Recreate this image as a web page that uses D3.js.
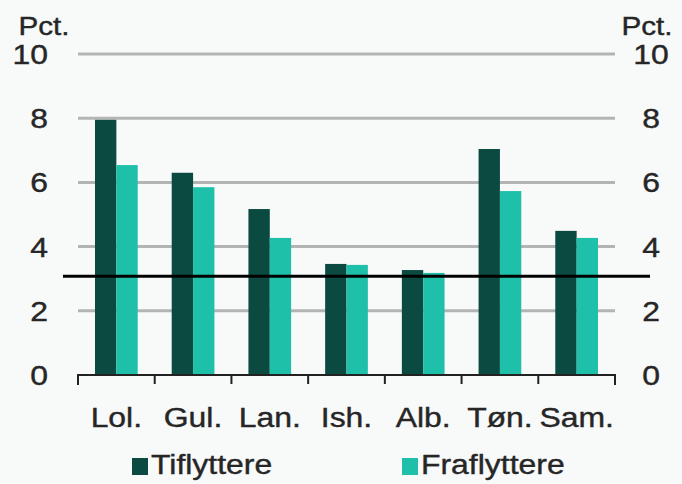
<!DOCTYPE html>
<html>
<head>
<meta charset="utf-8">
<script src="https://cdn.jsdelivr.net/npm/d3@7"></script>
<style>
  body { margin: 0; background: #f8f9f9; }
  svg { display: block; font-family: "Liberation Sans", Arial, sans-serif; }
  text { fill: #262626; stroke: #262626; stroke-width: 0.4px; }
</style>
</head>
<body>
<svg id="chart" width="682" height="484"></svg>
<script>
var categories = ["Lol.", "Gul.", "Lan.", "Ish.", "Alb.", "Tøn.", "Sam."];
var tiflyttere = [7.95, 6.3, 5.17, 3.46, 3.27, 7.04, 4.49];
var fraflyttere = [6.54, 5.85, 4.27, 3.43, 3.18, 5.73, 4.27];
var seriesNames = ["Tiflyttere", "Fraflyttere"];
var yTicks = [0, 2, 4, 6, 8, 10];
var average = 3.08;

var colors = ["#0b4a40", "#1ec0aa"];
var fontSize = 28, stretchX = 1.14;

var svg = d3.select("#chart");
var margin = {top: 54, right: 67, bottom: 109, left: 78},
    width = +svg.attr("width") - margin.left - margin.right,
    height = +svg.attr("height") - margin.top - margin.bottom;

// text in the original is a bit wider than the font, so scale it horizontally
function label(parent, x, y, anchor, str) {
  return parent.append("text")
      .attr("transform", "translate(" + x + "," + y + ") scale(" + stretchX + ",1)")
      .attr("text-anchor", anchor)
      .attr("font-size", fontSize)
      .text(str);
}

var g = svg.append("g")
    .attr("transform", "translate(" + margin.left + "," + margin.top + ")");

var data = categories.map(function(c, i) {
  return {cat: c, values: [tiflyttere[i], fraflyttere[i]]};
});

var x = d3.scaleBand()
    .domain(categories)
    .range([0, width]);

var x1 = d3.scaleBand()
    .domain([0, 1])
    .range([17, x.bandwidth() - 17]);

var y = d3.scaleLinear()
    .domain([0, 10])
    .range([height, 0]);

// gridlines
g.append("g").selectAll("line")
    .data(yTicks.filter(function(d) { return d > 0; }))
  .enter().append("line")
    .attr("x1", 0)
    .attr("x2", width)
    .attr("y1", function(d) { return y(d); })
    .attr("y2", function(d) { return y(d); })
    .attr("stroke", "#b4b4b4")
    .attr("stroke-width", 3);

// bars
var group = g.append("g").selectAll("g")
    .data(data)
  .enter().append("g")
    .attr("transform", function(d) { return "translate(" + x(d.cat) + ",0)"; });

group.selectAll("rect")
    .data(function(d) { return d.values; })
  .enter().append("rect")
    .attr("x", function(d, i) { return x1(i); })
    .attr("y", function(d) { return y(d); })
    .attr("width", x1.bandwidth())
    .attr("height", function(d) { return height - y(d); })
    .attr("fill", function(d, i) { return colors[i]; });

// average line
g.append("line")
    .attr("x1", -15)
    .attr("x2", width + 35)
    .attr("y1", y(average))
    .attr("y2", y(average))
    .attr("stroke", "#000")
    .attr("stroke-width", 3);

// x axis
var xAxis = g.append("g")
    .attr("transform", "translate(0," + height + ")");
xAxis.append("path")
    .attr("d", "M0,10V0H" + width + "V10")
    .attr("fill", "none")
    .attr("stroke", "#222")
    .attr("stroke-width", 2);
xAxis.selectAll("line.sep")
    .data(categories.slice(1))
  .enter().append("line")
    .attr("class", "sep")
    .attr("x1", function(d) { return x(d); })
    .attr("x2", function(d) { return x(d); })
    .attr("y1", 0)
    .attr("y2", 9)
    .attr("stroke", "#222")
    .attr("stroke-width", 2);
categories.forEach(function(c) {
  label(xAxis, x(c) + x.bandwidth() / 2, 52, "middle", c);
});

// y axes, both sides
yTicks.forEach(function(t) {
  label(g, -30, y(t) + 10, "end", t);
  label(g, width + 36, y(t) + 10, "middle", t);
});

label(svg, 44, 35, "middle", "Pct.").attr("font-size", 26);
label(svg, 647, 35, "middle", "Pct.").attr("font-size", 26);

// legend
var legendX = [132, 402];
var legend = svg.append("g").selectAll("g")
    .data(seriesNames)
  .enter().append("g")
    .attr("transform", function(d, i) { return "translate(" + legendX[i] + ",458)"; });
legend.append("rect")
    .attr("width", 16).attr("height", 17)
    .attr("fill", function(d, i) { return colors[i]; });
legend.each(function(d) {
  label(d3.select(this), 19, 16, "start", d);
});
</script>
</body>
</html>
